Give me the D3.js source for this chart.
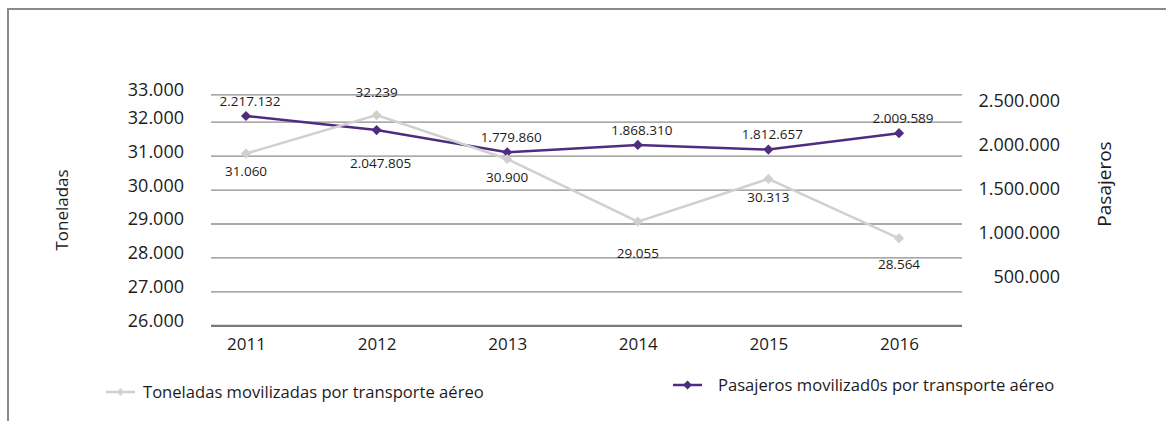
<!DOCTYPE html>
<html><head><meta charset="utf-8">
<script src="https://cdn.jsdelivr.net/npm/d3@7"></script>
<style>
body{margin:0;background:#fff}
svg{display:block}
text{font-family:"Open Sans",sans-serif;fill:#1e1b1c}
</style>
</head><body>
<svg id="chart" width="1166" height="421"></svg>
<script>
// ---- data ----
const years = ["2011","2012","2013","2014","2015","2016"];
const toneladas = [31060, 32239, 30900, 29055, 30313, 28564];
const pasajeros = [2217132, 2047805, 1779860, 1868310, 1812657, 2009589];
const leftTicks = [26000, 27000, 28000, 29000, 30000, 31000, 32000, 33000];
const rightTicks = [500000, 1000000, 1500000, 2000000, 2500000];
const seriesNames = ["Toneladas movilizadas por transporte aéreo", "Pasajeros movilizad0s por transporte aéreo"];
const axisTitles = ["Toneladas", "Pasajeros"];
const tonLabelSide = ["below","above","below","below","below","below"];
const pasLabelSide = ["above","below","above","above","above","above"];

// ---- setup ----
const svg = d3.select("#chart");
const fmt = d3.formatLocale({decimal:",", thousands:".", grouping:[3], currency:["$",""]}).format(",d");
const GRAY = "#d0d0d0", PURPLE = "#4f2c80";
const plotL = 211, plotR = 962;

const x = d3.scalePoint().domain(years).range([246, 899]);
const yL = d3.scaleLinear().domain([26000, 32000, 33000]).range([325.3, 121.7, 94.3]);
const yP = d3.scaleLinear().domain([0, 2500000]).range([300, 92.5]);
const yRaxis = d3.scaleLinear().domain([500000, 2500000]).range([276, 100]);

// frame
svg.append("path").attr("d", "M8,421V9H1166").attr("fill","none")
  .attr("stroke","#8a8a8a").attr("stroke-width",2);

// left axis + gridlines
const gL = svg.append("g").attr("transform", `translate(${plotL},0)`)
  .call(d3.axisLeft(yL).tickValues(leftTicks).tickFormat(fmt)
    .tickSize(-(plotR - plotL)).tickPadding(27));
gL.select(".domain").remove();
gL.selectAll(".tick line").attr("stroke","#8c8c8c").attr("stroke-width",1.3)
  .filter(d => d === 26000).attr("stroke","#7a7a7a").attr("stroke-width",2.2);
gL.selectAll(".tick text").attr("font-size",18).attr("dy","0.08em")
  .attr("font-family","Open Sans").attr("fill","#1e1b1c");

// right axis labels
const gR = svg.append("g").attr("transform","translate(1060,0)")
  .call(d3.axisRight(yRaxis).tickValues(rightTicks).tickFormat(fmt).tickSize(0).tickPadding(0));
gR.select(".domain").remove();
gR.selectAll(".tick text").attr("text-anchor","end").attr("font-size",18).attr("dy","0.35em")
  .attr("font-family","Open Sans").attr("fill","#1e1b1c");

// x axis labels
const gX = svg.append("g").attr("transform","translate(0,325)")
  .call(d3.axisBottom(x).tickSize(0).tickPadding(13));
gX.select(".domain").remove();
gX.selectAll(".tick text").attr("font-size",17)
  .attr("font-family","Open Sans").attr("fill","#1e1b1c");

// axis titles
svg.append("text").attr("transform","translate(68,210) rotate(-90)")
  .attr("text-anchor","middle").attr("font-size",17).text(axisTitles[0]);
svg.append("text").attr("transform","translate(1111,184) rotate(-90)")
  .attr("text-anchor","middle").attr("font-size",19).text(axisTitles[1]);

// lines
const diamond = s => d3.symbol(d3.symbolSquare, s);
const pasLine = d3.line().x((d,i) => x(years[i])).y(d => yP(d));
const tonLine = d3.line().x((d,i) => x(years[i])).y(d => yL(d));

svg.append("path").datum(pasajeros).attr("d", pasLine).attr("fill","none")
  .attr("stroke",PURPLE).attr("stroke-width",2.5);
svg.append("g").selectAll("path").data(pasajeros).join("path")
  .attr("d", diamond(52)())
  .attr("transform",(d,i) => `translate(${x(years[i])},${yP(d)}) rotate(45)`)
  .attr("fill",PURPLE);

svg.append("path").datum(toneladas).attr("d", tonLine).attr("fill","none")
  .attr("stroke",GRAY).attr("stroke-width",2.5);
svg.append("g").selectAll("path").data(toneladas).join("path")
  .attr("d", diamond(52)())
  .attr("transform",(d,i) => `translate(${x(years[i])},${yL(d)}) rotate(45)`)
  .attr("fill",GRAY);

// data labels
const tonExtra = {"2014": 14, "2016": 8};
svg.append("g").selectAll("text").data(toneladas).join("text")
  .attr("x",(d,i) => x(years[i]))
  .attr("y",(d,i) => yL(d) + (tonLabelSide[i] === "above" ? -18 : 22.6 + (tonExtra[years[i]] || 0)))
  .attr("text-anchor","middle").attr("font-size",13.5).text(d => fmt(d));

svg.append("g").selectAll("text").data(pasajeros).join("text")
  .attr("x",(d,i) => x(years[i]) + 4)
  .attr("y",(d,i) => yP(d) + (pasLabelSide[i] === "above" ? -10.4 : 37.6))
  .attr("text-anchor","middle").attr("font-size",13.5).text(d => fmt(d));

// legend
const lg1 = svg.append("g").attr("transform","translate(106,392)");
lg1.append("line").attr("x1",0).attr("x2",29).attr("stroke",GRAY).attr("stroke-width",2.5);
lg1.append("path").attr("d", diamond(30)()).attr("transform","translate(14.5,0) rotate(45)").attr("fill",GRAY);
lg1.append("text").attr("x",37).attr("y",5.5).attr("font-size",16.6).text(seriesNames[0]);

const lg2 = svg.append("g").attr("transform","translate(673,385)");
lg2.append("line").attr("x1",0).attr("x2",29).attr("stroke",PURPLE).attr("stroke-width",2.5);
lg2.append("path").attr("d", diamond(40)()).attr("transform","translate(14.5,0) rotate(45)").attr("fill",PURPLE);
lg2.append("text").attr("x",45).attr("y",5.5).attr("font-size",16.6).text(seriesNames[1]);
</script>
</body></html>
